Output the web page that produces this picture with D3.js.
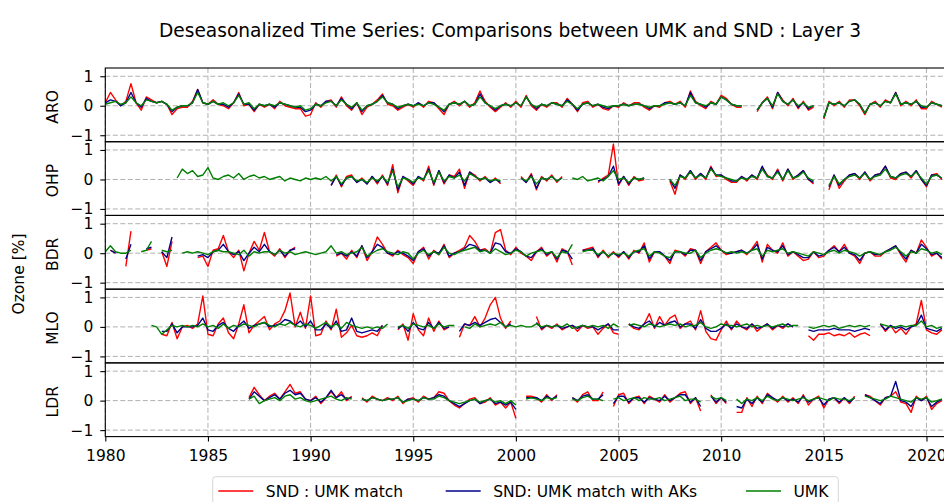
<!DOCTYPE html>
<html>
<head>
<meta charset="utf-8">
<script src="https://cdn.jsdelivr.net/npm/d3@7"></script>
<style>
  body { margin: 0; background: #fff; overflow: hidden; }
  text { font-family: "DejaVu Sans", sans-serif; fill: #000; }
</style>
</head>
<body>
<script>
var _ = null;

var stations = ["ARO", "OHP", "BDR", "MLO", "LDR"];
var startYears = [1980, 1983.5, 1980, 1982.25, 1987];   // first sample of each panel, quarterly steps
var step = 0.25;
var xTicks = [1980, 1985, 1990, 1995, 2000, 2005, 2010, 2015, 2020];
var yTicks = [-1, 0, 1];
var seriesNames = ["SND : UMK match", "SND: UMK match with AKs", "UMK"];
var seriesColors = ["red", "darkblue", "green"];

// values in hundredths of a percent
var aroSND = [
  10,45,20,0, 15,75,10,-15, 30,20,10,15, 5,-30,-10,-5, -5,15,55,10,
  5,20,5,0, -10,10,45,0, 5,-20,5,-5, 5,-10,15,0, -5,-10,-10,-35,
  -30,10,-5,15, 20,-5,30,0, -15,10,-30,-5, 5,20,40,5, 0,-15,-5,5,
  -5,10,-5,15, 10,-10,-30,5, 15,0,15,-5, 10,50,15,-5, -20,-5,10,-5,
  15,-5,35,0, -15,5,-5,10, 10,-5,25,5, -20,10,15,-5, 5,-10,-15,0,
  -5,10,0,10, 10,-5,-15,0, -5,10,15,5, 15,-5,50,15, 0,-10,15,5,
  35,25,5,-5, -5,_,_,-20, 10,30,-10,45, 20,0,25,-10, 15,-15,-5,_,
  -45,15,0,15, -5,20,20,0, -30,5,15,-5, 20,10,45,0, 15,0,20,-10,
  -10,15,5,-5
];
var aroAK = [
  10,20,15,0, 10,45,10,-5, 25,15,10,15, 5,-20,-5,0, 0,10,55,10,
  5,15,5,5, -5,10,40,5, 5,-15,5,0, 5,-5,10,5, 0,-5,-5,-20,
  -15,5,0,15, 15,0,25,5, -10,10,-20,0, 5,15,35,10, 5,-10,0,5,
  0,10,0,10, 10,-5,-20,5, 10,5,15,0, 5,40,10,0, -15,0,5,0,
  10,0,30,5, -10,5,0,10, 5,0,20,5, -15,5,10,0, 5,-5,-10,0,
  0,5,0,5, 5,0,-10,0, 0,10,10,5, 10,0,45,10, 5,-5,10,5,
  30,20,5,0, 0,_,_,-15, 10,25,-5,45, 15,5,20,-5, 10,-10,0,_,
  -40,10,5,10, 0,15,20,5, -25,5,10,0, 15,10,45,5, 10,5,15,-5,
  -5,10,5,0
];
var aroUMK = [
  5,10,15,5, 10,30,10,0, 20,15,10,15, 5,-15,-5,0, 0,10,45,10,
  5,15,5,10, 0,10,35,5, 10,-10,5,0, 5,0,10,5, 0,-5,0,-15,
  -10,5,0,10, 15,0,20,5, -5,10,-15,0, 5,15,30,10, 5,-5,0,5,
  0,5,0,10, 5,-5,-15,5, 10,5,15,0, 5,30,10,0, -10,0,5,0,
  10,0,30,5, -5,5,0,10, 5,0,15,5, -10,5,10,0, 5,0,-5,0,
  0,5,0,5, 5,0,-5,0, 0,5,10,5, 10,0,35,10, 5,0,10,5,
  30,20,5,0, 0,_,_,-15, 10,25,0,40, 15,5,20,0, 10,-5,0,_,
  -40,10,5,10, 0,15,20,5, -25,5,10,0, 15,10,40,5, 10,5,15,0,
  -5,10,5,0
];

var ohpSND = [
  _,_,
  _,_,_,_,
  _,_,_,_, _,_,_,_, _,_,_,_, _,_,_,_, _,_,_,_,
  _,_,_,_, -20,15,-25,10, 15,-10,5,-15, 10,-15,15,-20, 50,-45,10,-5,
  -20,10,-5,45, -20,30,-15,15, 10,35,-30,25, 15,-5,10,-10, 5,-15,_,_,
  _,10,-10,20, -35,10,-5,15, -10,10,_,_, _,_,_,_, -10,5,15,120,
  -20,10,-20,10, -5,0,_,_, _,_,-5,-50, 15,0,30,0, 20,0,45,10,
  15,0,-10,-10, 10,-5,15,0, 40,15,0,35, -5,35,0,15, 30,0,-15,_,
  _,-35,15,-30, -5,15,20,0, 25,-5,15,20, 45,5,0,20, 25,5,30,0,
  -25,15,20,0
];
var ohpAK = [
  _,_,
  _,_,_,_,
  _,_,_,_, _,_,_,_, _,_,_,_, _,_,_,_, _,_,_,_,
  _,_,_,_, -20,10,-20,5, 10,-10,0,-15, 10,-10,10,-15, 35,-35,10,0,
  -15,10,0,35, -15,30,-10,15, 5,25,-20,25, 10,0,5,-10, 0,-10,_,_,
  _,5,-10,15, -30,5,0,10, -5,5,_,_, _,_,_,_, -5,0,10,45,
  -15,10,-15,5, 0,5,_,_, _,_,0,-30, 15,5,30,5, 20,5,40,15,
  15,5,-5,-5, 10,0,15,5, 45,10,5,30, 0,35,5,15, 30,0,-10,_,
  _,-25,15,-20, 0,15,20,5, 25,0,15,20, 45,10,5,20, 25,10,30,0,
  -20,15,15,5
];
var ohpUMK = [
  5,35,
  20,30,10,15,
  40,5,0,10, 15,5,20,0, 10,15,5,10, 0,5,10,-5, 5,0,-5,5,
  0,5,0,10, -5,10,-15,5, 10,-5,0,-10, 5,-5,10,-10, 30,-25,5,0,
  -10,5,0,30, -10,25,-5,10, 5,15,-5,20, 10,0,5,-5, 0,-5,_,_,
  _,5,-5,10, -15,5,0,10, -5,5,_,5, 0,10,-5,0, 5,-5,10,30,
  0,5,-10,5, 0,5,_,_, _,_,0,-20, 10,5,25,5, 15,5,35,15,
  10,5,0,-5, 5,0,10,5, 35,10,5,25, 0,30,5,10, 25,5,-5,_,
  _,-20,10,-15, 0,10,15,5, 20,0,10,15, 35,10,5,15, 20,10,25,5,
  -15,10,15,5
];

var bdrSND = [
  _,10,0,_, -45,75,_,_, 10,15,_,5, -45,40,_,_, _,_,-15,-10,
  -45,10,15,60, 5,-15,10,-60, 0,40,10,70, 5,-10,15,-15, 10,20,_,_,
  _,_,_,_, _,-10,0,-20, 10,-15,25,-25, 5,55,30,0, -10,10,-5,-15,
  -35,5,20,-20, 10,-5,30,-15, 0,10,20,60, 40,10,15,0, 70,80,10,-5,
  20,0,-10,-25, 5,20,-10,5, -30,15,5,-40, _,10,15,20, -15,10,-15,5,
  -15,5,-20,10, 0,35,-30,5, 5,-10,-35,10, 5,-10,15,10, -35,5,20,35,
  10,-5,0,5, 10,-5,15,40, -30,30,10,0, 35,-10,5,-10, -25,-20,5,-15,
  -10,10,25,5, 30,0,-10,-35, 0,5,-10,-10, 5,15,25,-5, -30,10,0,45,
  20,-10,0,-20
];
var bdrAK = [
  _,10,0,_, -20,30,_,_, 15,20,_,5, -15,55,_,_, _,_,-10,-5,
  -15,5,10,30, 5,-5,5,-25, 0,20,5,30, 5,-5,10,-10, 10,15,_,_,
  _,_,_,_, _,-5,0,-10, 5,-10,25,-15, 5,30,20,0, -5,5,0,-10,
  -25,5,15,-10, 5,0,25,-10, 0,5,15,30, 25,10,10,0, 35,30,5,0,
  15,5,-10,-15, 5,15,-5,5, -20,10,5,-20, _,10,10,15, -10,5,-10,0,
  -10,5,-15,5, 5,25,-20,5, 5,-10,-25,5, 5,-5,10,10, -25,5,15,25,
  10,0,0,5, 10,0,10,30, -20,20,10,5, 25,-5,5,-5, -15,-15,5,-10,
  -5,10,20,5, 20,0,-5,-25, 0,5,-5,-5, 5,15,25,0, -20,10,0,30,
  15,-5,0,-15
];
var bdrUMK = [
  5,25,5,0, 0,10,_,5, 10,40,_,10, 5,10,_,0, 5,0,5,0,
  -5,5,10,5, 5,0,-5,10, -10,5,0,5, 5,-5,10,0, 5,-5,0,5,
  0,-5,0,5, 25,0,5,-5, 0,5,20,-10, 0,10,15,5, 0,-5,5,0,
  -20,0,10,-5, 5,-5,20,0, -5,5,10,15, 20,5,10,0, 15,5,-5,0,
  10,5,-10,0, 5,10,0,5, -15,5,0,30, _,5,10,10, -5,5,-10,0,
  -5,0,-10,5, 10,15,-10,5, 0,-10,-15,5, 5,0,0,10, -15,0,10,15,
  10,0,5,0, 5,0,10,15, -10,10,5,10, 15,0,5,0, -5,-10,5,0,
  -5,5,10,0, 10,5,0,-10, 0,5,0,-5, 5,10,20,5, -10,5,0,15,
  10,0,5,-5
];

var mloSND = [
  _,_,-25,
  -30,15,-40,0, 5,-5,10,105,
  -25,-30,10,30, -20,-40,10,75, -20,5,20,35, -10,10,20,55, 115,0,50,-5,
  105,-30,-25,20, -10,60,-35,-20, 5,-30,-35,-30, -20,-30,5,_, _,-10,10,-45,
  45,-10,-30,30, -15,20,-10,0, _,-35,10,5, 35,0,30,75, 100,30,-5,20,
  _,_,_,_, 35,-10,5,-5, 10,-10,0,5, -15,5,-5,0, -25,-5,10,-20,
  -25,_,10,-5, -10,10,45,-5, 35,5,30,40, -5,10,20,-10, 55,-15,-40,-45,
  -10,20,-10,20, 0,-10,10,-15, 0,10,-10,5, -5,10,0,_, _,-30,-45,-25,
  -25,-20,-30,-25, -30,-20,-35,-25, -20,-30,_,10, -15,5,-20,-5, -25,0,10,90,
  -10,-20,-25,-10
];
var mloAK = [
  _,_,-15,
  -15,10,-20,0, 0,0,5,30,
  -10,-15,5,15, -5,-15,5,20, -5,5,10,15, 0,5,10,25, 20,5,20,0,
  20,-10,-10,10, -5,20,-15,-10, 30,-15,-20,-15, -10,-15,5,_, _,-5,5,-15,
  15,-5,-10,15, -5,15,-5,0, _,-15,10,5, 15,5,15,25, 30,15,0,10,
  _,_,_,_, 15,-5,5,0, 5,-5,0,5, -5,5,0,0, -10,0,10,-10,
  -10,_,10,0, -5,10,20,0, 15,5,15,20, 0,10,10,-5, 25,-5,-15,-15,
  -5,10,-5,10, 0,-5,10,-5, 0,10,-5,5, 0,10,0,_, _,-10,-15,-10,
  -10,-10,-5,-10, -10,-10,-15,-10, -5,-10,_,10, -10,5,-5,0, -10,0,5,40,
  -5,-10,-15,-5
];
var mloUMK = [
  5,0,-25,
  -10,5,0,5, 0,5,0,10,
  0,5,-5,10, -5,5,0,10, 5,0,10,15, 5,0,10,5, 15,5,0,10,
  5,-5,5,15, 0,10,-5,15, 5,0,-5,0, -5,0,-5,10, _,0,5,-5,
  10,5,0,5, -5,10,0,5, 5,_,0,-5, 10,0,5,10, 5,15,0,5,
  0,5,0,0, 10,0,5,0, 5,0,10,-5, 0,5,0,5, 0,5,-5,10,
  0,_,5,10, 5,0,10,5, 0,5,10,5, 10,0,5,5, 15,0,-5,0,
  10,5,5,0, 5,10,0,5, 0,5,0,5, 10,0,5,5, _,0,-5,0,
  5,0,5,-5, 0,5,0,5, 0,5,_,10, 5,0,0,5, 0,5,5,20,
  0,5,-5,0
];

var ldrSND = [
  10,45,20,0, 15,25,5,30, 55,25,30,5,
  0,15,-10,10, 30,10,30,0, 15,_,10,-5, 15,5,0,10, 0,15,-10,5,
  10,-5,15,5, 10,30,25,0, -15,-25,-10,5, 10,-10,-5,10, -15,-5,-25,-5,
  -60,_,15,15, 10,-5,20,0, 20,_,_,10, -5,20,30,0, 0,30,_,-20,
  20,25,-10,10, 15,-10,15,5, -5,20,-5,10, 25,30,-10,10, -35,_,20,-10,
  10,-10,_,-40, -40,10,-20,15, -10,25,10,-5, 15,-5,10,-10, 20,-15,5,15,
  -25,5,10,-10, 10,-10,15,_, 20,15,0,-15, 10,15,30,-5, -10,-40,15,0,
  15,-30,-10,0
];
var ldrAK = [
  5,30,15,0, 10,20,5,25, 35,20,25,5,
  0,10,-5,10, 35,10,20,5, 10,_,5,0, 10,5,0,5, 5,10,-5,5,
  5,0,10,5, 10,20,15,0, -10,-20,-10,0, 5,-10,0,5, -10,-5,-15,-5,
  -30,_,10,10, 10,0,15,5, 15,_,_,10, 0,15,20,5, 5,20,_,-10,
  15,15,-5,10, 10,-5,10,5, 0,15,0,10, 20,20,-5,10, -20,_,15,-5,
  10,-5,_,-20, -25,5,-10,10, -5,20,10,0, 10,0,5,-5, 15,-5,5,10,
  -15,5,10,-5, 10,-5,10,_, 20,10,0,-10, 10,15,65,0, -5,-20,10,0,
  10,-20,-5,5
];
var ldrUMK = [
  5,15,-10,0, 5,10,0,15, 20,5,10,0,
  -5,0,5,10, 15,5,0,10, 5,_,5,0, 10,5,0,5, 5,10,-5,0,
  5,0,10,5, 5,15,10,0, -5,-10,-5,0, 5,-5,0,5, -5,0,-10,0,
  -15,_,5,10, 5,0,10,5, 10,_,_,5, 0,10,15,5, 5,0,_,5,
  10,0,5,10, 0,10,5,5, 10,0,5,10, 15,0,5,5, -5,_,15,5,
  10,0,_,5, -10,5,0,10, 0,15,5,0, 10,5,0,5, 10,0,5,10,
  5,0,10,5, 5,0,10,_, 15,10,5,0, 5,15,10,5, 0,-5,10,5,
  10,-5,0,5
];

var panelSeries = [
  [aroSND, aroAK, aroUMK],
  [ohpSND, ohpAK, ohpUMK],
  [bdrSND, bdrAK, bdrUMK],
  [mloSND, mloAK, mloUMK],
  [ldrSND, ldrAK, ldrUMK]
];

var width = 944, height = 502;
var margin = { top: 68, left: 105.3, right: 947, bottom: 436.6 };
var panelH = (margin.bottom - margin.top) / stations.length;
var fontSize = 15.5;

var svg = d3.select("body").append("svg")
  .attr("width", width)
  .attr("height", height);

var x = d3.scaleLinear().domain([1980, 2021]).range([margin.left, margin.right]);
var y = d3.scaleLinear().domain([-1.22, 1.28]).range([panelH, 0]);

var line = d3.line()
  .defined(function(d) { return d.v != null; })
  .x(function(d) { return x(d.t); })
  .y(function(d) { return y(d.v / 100); });

var minus = function(d) { return d < 0 ? "\u2212" + Math.abs(d) : "" + d; };

stations.forEach(function(name, p) {
  var top = margin.top + p * panelH;
  var g = svg.append("g").attr("transform", "translate(0," + top + ")");

  g.append("clipPath").attr("id", "clip" + p)
    .append("rect")
    .attr("x", margin.left).attr("y", 0)
    .attr("width", margin.right - margin.left).attr("height", panelH);

  // dashed grid
  g.selectAll(".vgrid").data(xTicks).enter().append("line")
    .attr("x1", function(d) { return x(d); }).attr("x2", function(d) { return x(d); })
    .attr("y1", 0).attr("y2", panelH)
    .attr("stroke", "#b0b0b0").attr("stroke-width", 1)
    .attr("stroke-dasharray", "5,2.5");
  g.selectAll(".hgrid").data(yTicks).enter().append("line")
    .attr("x1", margin.left).attr("x2", margin.right)
    .attr("y1", function(d) { return y(d); }).attr("y2", function(d) { return y(d); })
    .attr("stroke", "#b0b0b0").attr("stroke-width", 1)
    .attr("stroke-dasharray", "5,2.5");

  var plot = g.append("g").attr("clip-path", "url(#clip" + p + ")");
  panelSeries[p].forEach(function(vals, s) {
    var pts = vals.map(function(v, i) { return { t: startYears[p] + i * step, v: v }; });
    plot.append("path")
      .datum(pts)
      .attr("fill", "none")
      .attr("stroke", seriesColors[s])
      .attr("stroke-width", 1.4)
      .attr("stroke-linejoin", "round")
      .attr("d", line);
  });

  g.append("rect")
    .attr("x", margin.left).attr("y", 0)
    .attr("width", margin.right - margin.left).attr("height", panelH)
    .attr("fill", "none").attr("stroke", "#000").attr("stroke-width", 1.1);

  var yAxis = g.append("g")
    .attr("transform", "translate(" + margin.left + ",0)")
    .call(d3.axisLeft(y).tickValues(yTicks).tickSize(5).tickPadding(7).tickFormat(minus));
  yAxis.select(".domain").remove();
  yAxis.selectAll("text").style("font-size", fontSize + "px").style("font-family", "DejaVu Sans");
  yAxis.selectAll("line").attr("stroke-width", 1.1);

  g.append("text")
    .attr("transform", "translate(58," + (panelH / 2 + 2) + ") rotate(-90)")
    .attr("text-anchor", "middle")
    .style("font-size", fontSize + "px")
    .text(name);

  if (p == stations.length - 1) {
    var xAxis = g.append("g")
      .attr("transform", "translate(0," + panelH + ")")
      .call(d3.axisBottom(x).tickValues(xTicks).tickSize(5).tickPadding(8).tickFormat(d3.format("d")));
    xAxis.select(".domain").remove();
    xAxis.selectAll("text").style("font-size", fontSize + "px").style("font-family", "DejaVu Sans");
    xAxis.selectAll("line").attr("stroke-width", 1.1);
  }
});

svg.append("text")
  .attr("x", 510).attr("y", 36.5)
  .attr("text-anchor", "middle")
  .style("font-size", "18.6px")
  .text("Deseasonalized Time Series: Comparisons between UMK and SND : Layer 3");

svg.append("text")
  .attr("transform", "translate(24,274) rotate(-90)")
  .attr("text-anchor", "middle")
  .style("font-size", fontSize + "px")
  .text("Ozone [%]");

// legend, cut by the bottom edge as in the original
var legend = svg.append("g").attr("class", "legend");
legend.append("rect")
  .attr("x", 212.7).attr("y", 476.7)
  .attr("width", 625.6).attr("height", 40)
  .attr("rx", 3)
  .attr("fill", "#fff").attr("stroke", "#d6d6d6").attr("stroke-width", 1);

var legendX = [218.3, 445.7, 746];
seriesNames.forEach(function(n, i) {
  legend.append("line")
    .attr("x1", legendX[i]).attr("x2", legendX[i] + 35)
    .attr("y1", 491).attr("y2", 491)
    .attr("stroke", seriesColors[i]).attr("stroke-width", 1.4);
  legend.append("text")
    .attr("x", legendX[i] + 47.5).attr("y", 496.6)
    .style("font-size", fontSize + "px")
    .text(n);
});
</script>
</body>
</html>
